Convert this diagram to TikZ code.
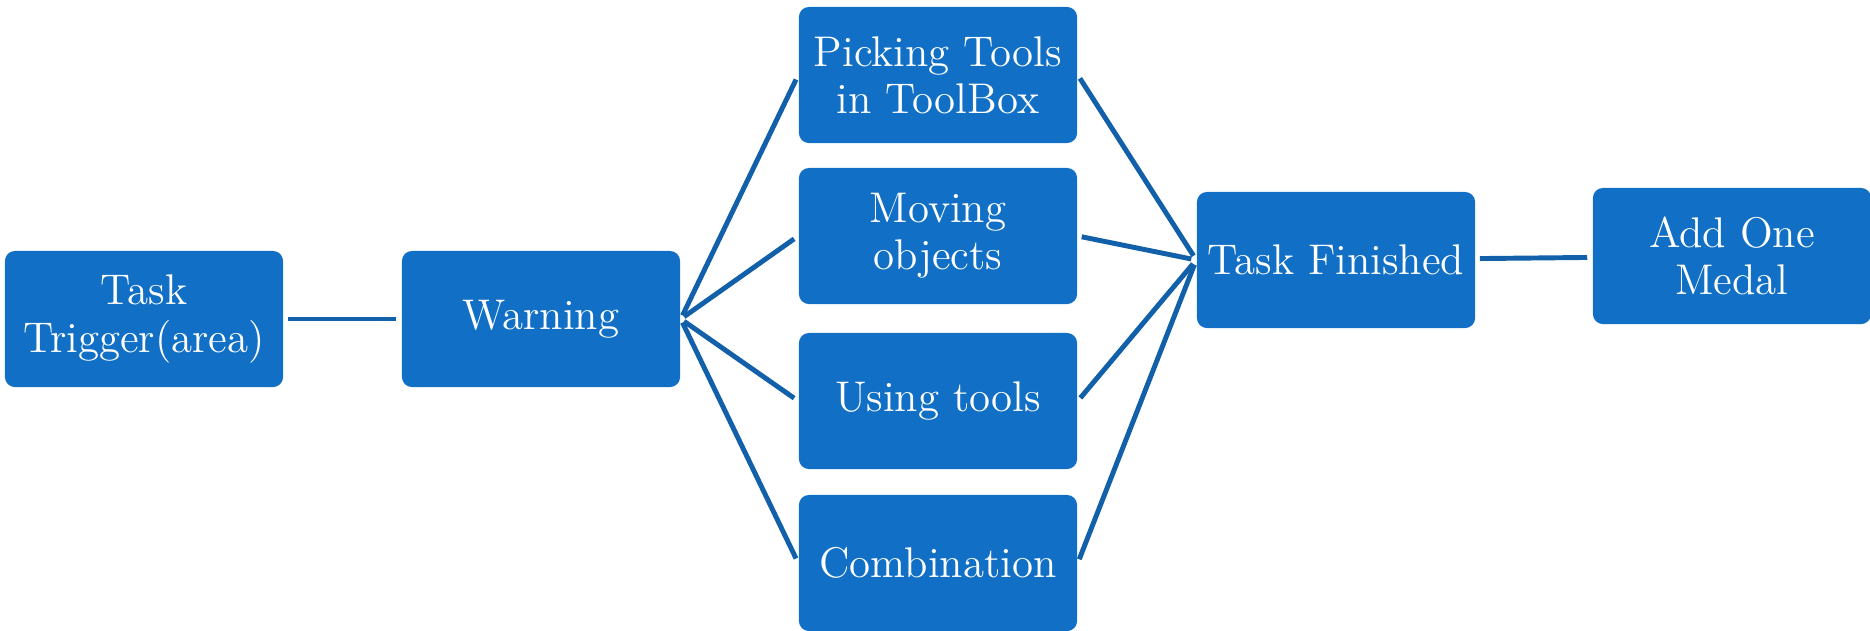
\documentclass[tikz,border=0pt]{standalone}
\usepackage{xcolor}
\usepackage{tikz}
\definecolor{boxblue}{RGB}{17,112,198}
\definecolor{lineblue}{RGB}{18,96,170}
\tikzstyle{stagebox} = [fill=boxblue, rectangle, rounded corners=0.1cm, minimum width=2.78cm, minimum height=1.36cm, inner sep=0pt, align=center, text=white, font=\fontsize{12.2}{13.4}\selectfont]
\tikzstyle{link} = [draw=lineblue, line width=1.4pt, shorten <=0.04cm, shorten >=0.05cm]

\begin{document}
\begin{tikzpicture}[x=0.01cm, y=-0.01cm]
\useasboundingbox[fill=white] (0,0) rectangle (1870,630);
\node [stagebox] (trigger) at (144,319) {Task\\Trigger(area)};
\node [stagebox] (warning) at (541,319) {Warning};
\node [stagebox] (picking) at (938,75) {Picking Tools\\in ToolBox};
\node [stagebox] (moving) at (938,236) {Moving\\objects};
\node [stagebox] (using) at (938,401) {Using tools};
\node [stagebox] (combo) at (938,563) {Combination};
\node [stagebox] (finished) at (1336,260) {Task Finished};
\node [stagebox] (medal) at (1732,256) {Add One\\Medal};

\draw [link] (trigger) -- (warning);
\foreach \step in {picking,moving,using,combo}{
    \draw [link] (warning.east) -- (\step.west);
    \draw [link] (\step.east) -- (finished.west);
}
\draw [link] (finished) -- (medal);
\end{tikzpicture}
\end{document}
